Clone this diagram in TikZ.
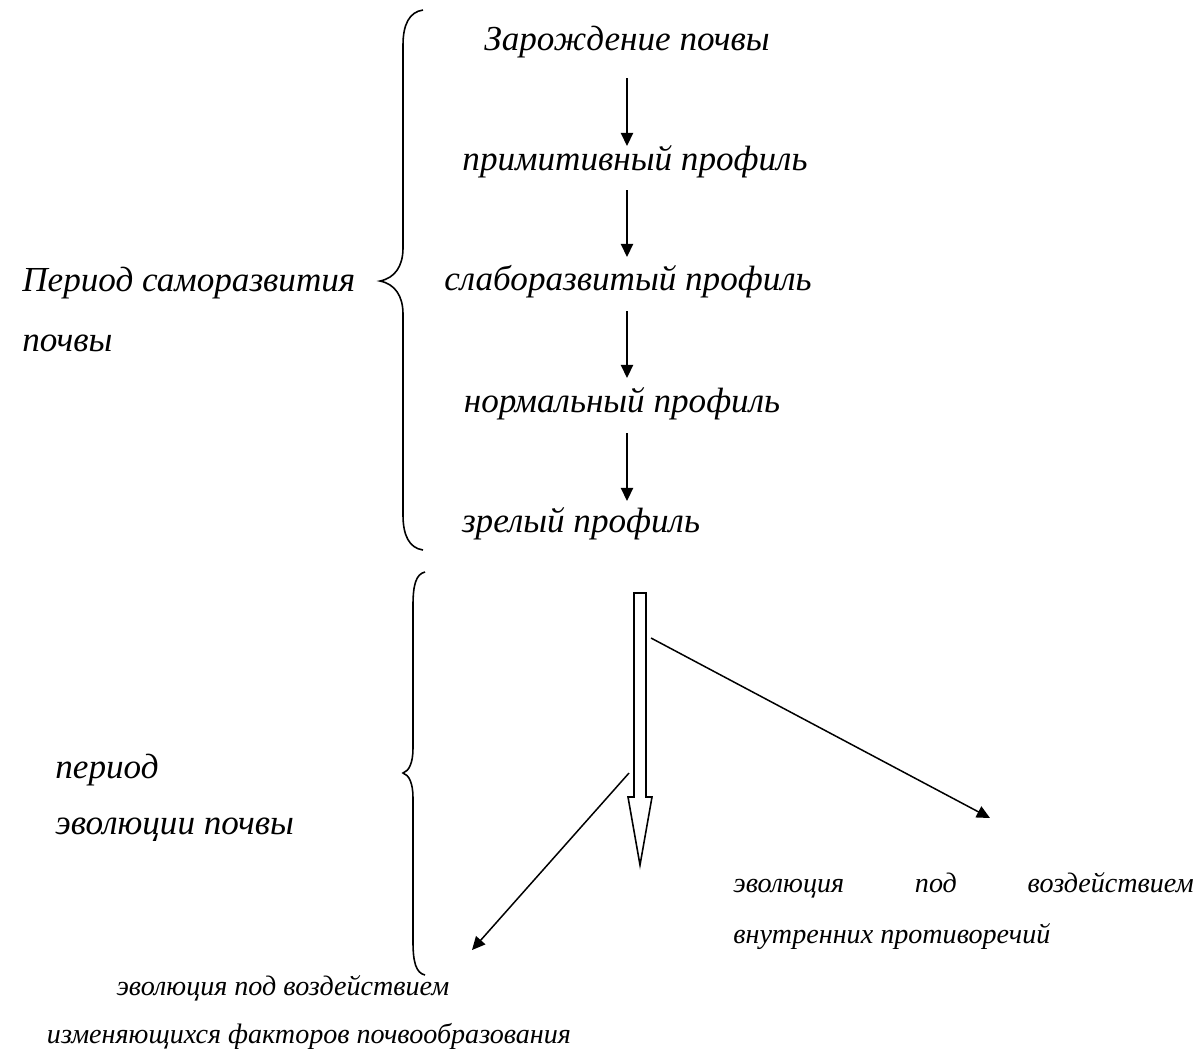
\documentclass[tikz,border=0pt]{standalone}
\usepackage{fontspec}
\setmainfont{Liberation Serif}
\usetikzlibrary{arrows.meta}
\tikzset{
  lbl/.style={inner sep=0pt, font=\fontsize{20}{24}\selectfont\itshape},
  sml/.style={inner sep=0pt, font=\fontsize{16}{19}\selectfont\itshape},
  arr/.style={line width=0.85pt, -{Triangle[length=7.5pt,width=7pt]}},
  brace/.style={line width=0.9pt},
  hollow/.style={line width=0.9pt, fill=white}
}
\begin{document}
\begin{tikzpicture}[x=0.02cm,y=-0.02cm]
\useasboundingbox (0,0) rectangle (1199,1056);
% stage labels
\node[lbl] (t1) at (627,42) {Зарождение почвы};
\node[lbl] (t2) at (635,162) {примитивный профиль};
\node[lbl] (t3) at (628,282) {слаборазвитый профиль};
\node[lbl] (t4) at (622,404) {нормальный профиль};
\node[lbl] (t5) at (581,524) {зрелый профиль};
% period labels
\node[lbl, anchor=west] (p1) at (22,283) {Период саморазвития};
\node[lbl, anchor=west] (p1b) at (22,343) {почвы};
\node[lbl, anchor=west] (p2) at (55,770) {период};
\node[lbl, anchor=west] (p2b) at (55,830) {эволюции почвы};
% outcome labels
\node[sml, anchor=west] (e1) at (733,885) {\hbox to 262pt{эволюция\hfill под\hfill воздействием}};
\node[sml, anchor=west] (e1b) at (733,937) {внутренних противоречий};
\node[sml] (e2) at (283,988) {эволюция под воздействием};
\node[sml] (e2b) at (309,1036) {изменяющихся факторов почвообразования};
% arrow end points
\coordinate (a1s) at (627,78);  \coordinate (a1e) at (627,146);
\coordinate (a2s) at (627,190); \coordinate (a2e) at (627,257);
\coordinate (a3s) at (627,311); \coordinate (a3e) at (627,378);
\coordinate (a4s) at (627,433); \coordinate (a4e) at (627,501);
\draw[arr] (a1s) -- (a1e);
\draw[arr] (a2s) -- (a2e);
\draw[arr] (a3s) -- (a3e);
\draw[arr] (a4s) -- (a4e);
% braces
\draw[brace] (423,10) .. controls (409,12) and (403,25) .. (403,45) -- (403,248)
  .. controls (403,266) and (395,278) .. (380,281)
  .. controls (395,284) and (403,296) .. (403,314) -- (403,515)
  .. controls (403,535) and (409,548) .. (423,550);
\draw[brace] (425,572) .. controls (416,574) and (413,585) .. (413,605) -- (413,748)
  .. controls (413,763) and (409,771) .. (403,773)
  .. controls (409,775) and (413,783) .. (413,798) -- (413,942)
  .. controls (413,962) and (416,973) .. (425,975);
% hollow arrow
\draw[hollow] (634,593) -- (646,593) -- (646,797) -- (652,797) -- (640,865)
  -- (628,797) -- (634,797) -- cycle;
\coordinate (hr) at (651,638);
\coordinate (hl) at (629,773);
\coordinate (rE) at (990,818);
\coordinate (lE) at (472,950);
\draw[arr] (hr) -- (rE);
\draw[arr] (hl) -- (lE);
\end{tikzpicture}
\end{document}
